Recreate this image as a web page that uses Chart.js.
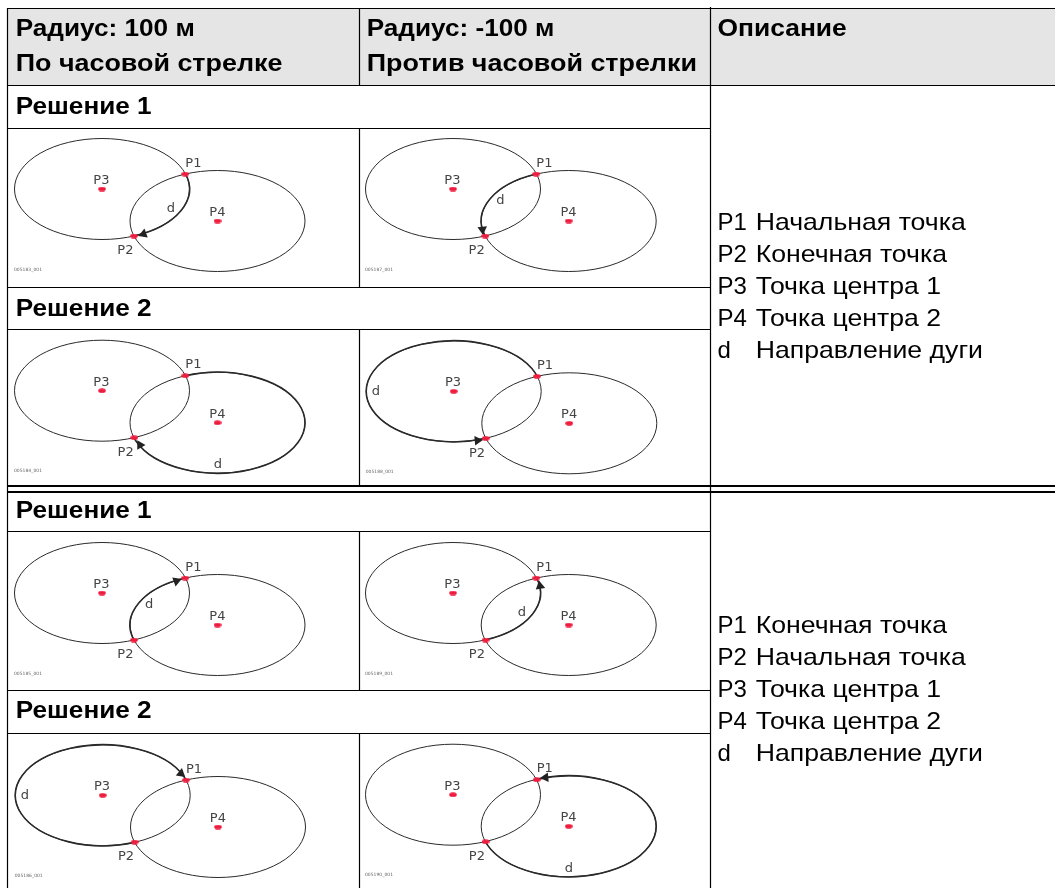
<!DOCTYPE html>
<html lang="ru">
<head>
<meta charset="utf-8">
<title>Радиус и направление дуги</title>
<script src="https://cdn.jsdelivr.net/npm/chart.js@4/dist/chart.umd.min.js"></script>
<style>
html, body { margin: 0; padding: 0; background: #fff; overflow: hidden; }
canvas { display: block; }
</style>
</head>
<body>
<canvas id="graphe" width="1055" height="888"></canvas>
<script>
var p1X = [185.3, 536.3, 185.3, 537, 185.3, 536.3, 186, 536.7];
var p1Y = [174, 174, 375.7, 376.3, 578, 578, 780, 779.7];
var p2X = [134, 485.3, 134.3, 485.7, 134, 485.5, 134.7, 485.5];
var p2Y = [236, 236, 437.7, 438.3, 640, 640, 842, 841.7];
var p3X = [102, 453, 102, 453.7, 102, 453, 102.7, 453];
var p3Y = [189, 189, 390.7, 391.3, 593, 593, 795.3, 794.7];
var p4X = [217.5, 568.7, 217.5, 569.3, 217.5, 568.7, 218, 568.7];
var p4Y = [221, 221, 422.7, 423.3, 625, 625, 827, 826.3];
var dX = [166.7, 496.3, 213.7, 371.7, 145, 517.7, 20.7, 564.7];
var dY = [211.7, 204, 468.3, 395, 608.3, 616.3, 799, 872];
var arrowX = [143.5, 482.5, 140, 477.5, 176.5, 540, 181, 545.5];
var arrowY = [234, 229.5, 445, 440.5, 581, 586, 773.5, 777.5];
var arrowAngle = [-110, 175, -30, 85, 70, -10, 130, -95];
var radiusX = 87.5;
var radiusY = 50.5;
// which ellipse carries the bold arc (3 = around P3, 4 = around P4), and where the clockwise sweep starts
var arcCentre = [3, 4, 4, 3, 4, 3, 3, 4];
var arcStart = ['P1', 'P2', 'P1', 'P2', 'P2', 'P1', 'P2', 'P1'];
var drawingCodes = ['005183_001', '005187_001', '005184_001', '005188_001', '005185_001', '005189_001', '005186_001', '005190_001'];

// table text
var headColumn1 = ['Радиус: 100 м', 'По часовой стрелке'];
var headColumn2 = ['Радиус: -100 м', 'Против часовой стрелки'];
var headColumn3 = ['Описание'];
var headBaselines = [35.7, 70.7];
var solutionLabels = ['Решение 1', 'Решение 2', 'Решение 1', 'Решение 2'];
var solutionBaselines = [114, 316, 518.3, 718.3];
var legendKeys = ['P1', 'P2', 'P3', 'P4', 'd'];
var legendTop = ['Начальная точка', 'Конечная точка', 'Точка центра 1', 'Точка центра 2', 'Направление дуги'];
var legendBottom = ['Конечная точка', 'Начальная точка', 'Точка центра 1', 'Точка центра 2', 'Направление дуги'];
var legendTopBaselines = [229.5, 261.5, 293.5, 325.5, 357.5];
var legendBottomBaselines = [633, 665, 697, 729, 761];

// table rules: [x1, y1, x2, y2]
var thinRules = [
    [8, 8.5, 1055, 8.5], [8, 85.5, 1055, 85.5], [8, 128.5, 710.5, 128.5], [8, 287.5, 710.5, 287.5],
    [8, 329.5, 710.5, 329.5], [8, 531.5, 710.5, 531.5], [8, 690.5, 710.5, 690.5], [8, 733.5, 710.5, 733.5],
    [7.5, 8, 7.5, 888], [710.5, 7, 710.5, 888],
    [359.5, 8, 359.5, 85], [359.5, 128, 359.5, 287], [359.5, 329, 359.5, 486],
    [359.5, 531, 359.5, 690], [359.5, 733, 359.5, 888]
];
var thickRules = [[8, 486, 1055, 486], [8, 492, 1055, 492]];

//red dot used for every P point
function makeDot(){
    var c = document.createElement('canvas');
    c.width = 8;
    c.height = 5;
    var g = c.getContext('2d');
    g.fillStyle = '#ee1c3e';
    g.beginPath();
    g.ellipse(4, 2.5, 3.8, 2.3, 0, 0, Math.PI * 2);
    g.fill();
    return c;
}

function pairs(xs, ys){
    return xs.map(function(x, i){ return {x: x, y: ys[i]}; });
}

//ellipses and the bold arcs, through the chart scales
var ellipsePlugin = {
    id: 'ellipses',
    beforeDatasetsDraw: function(chart){
        var ctx = chart.ctx, sx = chart.scales.x, sy = chart.scales.y;
        var rx = sx.getPixelForValue(radiusX) - sx.getPixelForValue(0);
        var ry = sy.getPixelForValue(radiusY) - sy.getPixelForValue(0);
        ctx.save();
        ctx.strokeStyle = '#2a2a2a';
        p3X.forEach(function(v, i){
            ctx.lineWidth = 1;
            [[p3X[i], p3Y[i]], [p4X[i], p4Y[i]]].forEach(function(c){
                ctx.beginPath();
                ctx.ellipse(sx.getPixelForValue(c[0]), sy.getPixelForValue(c[1]), rx, ry, 0, 0, Math.PI * 2);
                ctx.stroke();
            });
            var cx = arcCentre[i] == 3 ? p3X[i] : p4X[i];
            var cy = arcCentre[i] == 3 ? p3Y[i] : p4Y[i];
            var a1 = Math.atan2((p1Y[i] - cy) / radiusY, (p1X[i] - cx) / radiusX);
            var a2 = Math.atan2((p2Y[i] - cy) / radiusY, (p2X[i] - cx) / radiusX);
            ctx.lineWidth = 1.6;
            ctx.beginPath();
            ctx.ellipse(sx.getPixelForValue(cx), sy.getPixelForValue(cy), rx, ry, 0,
                arcStart[i] == 'P1' ? a1 : a2, arcStart[i] == 'P1' ? a2 : a1);
            ctx.stroke();
        });
        ctx.restore();
    }
};

//all table and diagram text
var textPlugin = {
    id: 'tableText',
    afterDatasetsDraw: function(chart){
        var ctx = chart.ctx, sx = chart.scales.x, sy = chart.scales.y;
        function put(s, x, y){
            ctx.fillText(s, sx.getPixelForValue(x), sy.getPixelForValue(y));
        }
        //the cyrillic of the original font runs wider than Liberation, so widen it
        function putWide(s, x, y, wide){
            ctx.save();
            ctx.translate(sx.getPixelForValue(x), sy.getPixelForValue(y));
            ctx.scale(wide, 1);
            ctx.fillText(s, 0, 0);
            ctx.restore();
        }
        ctx.save();
        ctx.textBaseline = 'alphabetic';
        ctx.textAlign = 'left';
        ctx.fillStyle = '#000';
        ctx.font = 'bold 24px "Liberation Sans"';
        headColumn1.forEach(function(s, i){ putWide(s, 15.7, headBaselines[i], i ? 1.12 : 1.09); });
        headColumn2.forEach(function(s, i){ putWide(s, 366.7, headBaselines[i], i ? 1.12 : 1.09); });
        headColumn3.forEach(function(s, i){ putWide(s, 717.5, headBaselines[i], 1.1); });
        solutionLabels.forEach(function(s, i){ putWide(s, 15.7, solutionBaselines[i], 1.09); });
        ctx.font = '24px "Liberation Sans"';
        legendKeys.forEach(function(k, i){
            put(k, 717.5, legendTopBaselines[i]);
            putWide(legendTop[i], 755.7, legendTopBaselines[i], 1.11);
            put(k, 717.5, legendBottomBaselines[i]);
            putWide(legendBottom[i], 755.7, legendBottomBaselines[i], 1.11);
        });
        ctx.fillStyle = '#444';
        ctx.font = '13px "DejaVu Sans"';
        p1X.forEach(function(v, i){
            put('P1', p1X[i], p1Y[i] - 7.3);
            put('P2', p2X[i] - 16.7, p2Y[i] + 18.3);
            put('P3', p3X[i] - 8.7, p3Y[i] - 5);
            put('P4', p4X[i] - 8.2, p4Y[i] - 5);
            put('d', dX[i], dY[i]);
        });
        ctx.fillStyle = '#666';
        ctx.font = '4.5px "DejaVu Sans"';
        drawingCodes.forEach(function(s, i){ put(s, p3X[i] - 88, p3Y[i] + 81.7); });
        ctx.restore();
    }
};

function ruleDataset(r, width){
    return {
        data: [{x: r[0], y: r[1]}, {x: r[2], y: r[3]}],
        showLine: true, pointRadius: 0, borderColor: '#000', borderWidth: width,
        borderCapStyle: 'butt', order: 5
    };
}

var dot = makeDot();
var datasets = [{
    // grey header band
    data: [{x: 8, y: 8}, {x: 1055, y: 8}],
    showLine: true, pointRadius: 0, borderWidth: 0, borderColor: 'transparent',
    backgroundColor: '#e5e5e5', fill: {value: 85}, order: 9
}];
thinRules.forEach(function(r){ datasets.push(ruleDataset(r, 1.2)); });
thickRules.forEach(function(r){ datasets.push(ruleDataset(r, 2)); });
datasets.push({
    label: 'arrows', data: pairs(arrowX, arrowY), pointStyle: 'triangle', pointRadius: 5.5,
    rotation: arrowAngle, backgroundColor: '#222', borderColor: '#222', borderWidth: 0, order: 2
});
[pairs(p1X, p1Y), pairs(p2X, p2Y), pairs(p3X, p3Y), pairs(p4X, p4Y)].forEach(function(d, i){
    datasets.push({label: legendKeys[i], data: d, pointStyle: dot, order: 1});
});

var myChart = new Chart(document.getElementById('graphe').getContext('2d'), {
    type: 'scatter',
    data: {datasets: datasets},
    options: {
        responsive: false,
        animation: false,
        layout: {padding: 0, autoPadding: false},
        plugins: {legend: {display: false}, tooltip: {enabled: false}, title: {display: false}},
        scales: {
            x: {type: 'linear', display: false, min: 0, max: 1055},
            y: {type: 'linear', display: false, min: 0, max: 888, reverse: true}
        }
    },
    plugins: [ellipsePlugin, textPlugin]
});
</script>
</body>
</html>
